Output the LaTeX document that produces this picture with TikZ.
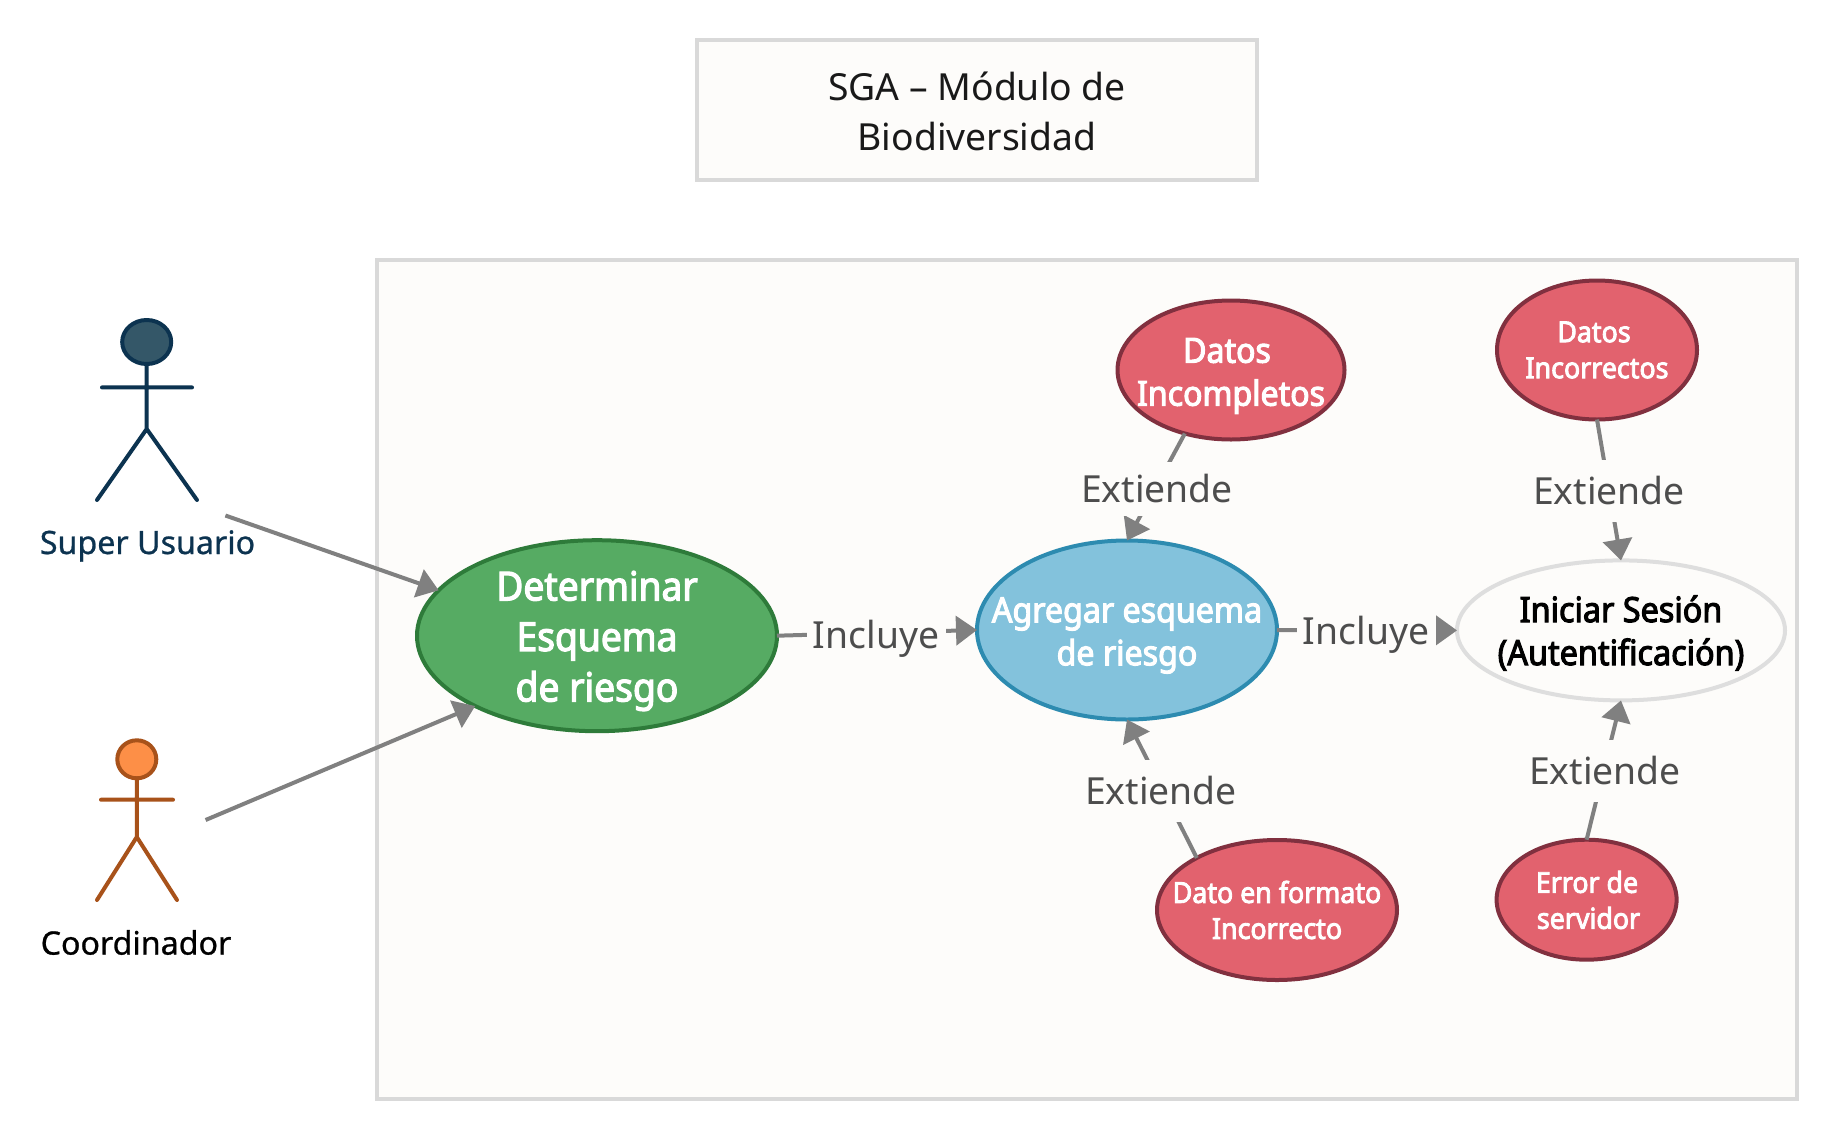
\documentclass[tikz,border=0pt]{standalone}
\usepackage{fontspec}
\setmainfont{Noto Sans}
\usetikzlibrary{shapes.geometric,arrows.meta}
\definecolor{panelbg}{HTML}{FDFCFA}
\definecolor{panelln}{HTML}{D9D9D9}
\definecolor{edgeclr}{HTML}{808080}
\definecolor{labclr}{HTML}{4D4D4D}
\definecolor{redfill}{HTML}{E2626E}
\definecolor{redln}{HTML}{81303F}
\definecolor{grfill}{HTML}{56AB63}
\definecolor{grln}{HTML}{2E7B3A}
\definecolor{blfill}{HTML}{83C2DC}
\definecolor{blln}{HTML}{2D8BB0}
\definecolor{whln}{HTML}{DEDEDE}
\definecolor{sufill}{HTML}{345768}
\definecolor{suln}{HTML}{0C3350}
\definecolor{cofill}{HTML}{FD8F47}
\definecolor{coln}{HTML}{A8521A}
\newfontfamily\ucb{Noto Sans}[FakeStretch=0.93,FakeBold=3]
\newfontfamily\actfont{Noto Sans}[FakeBold=0.8]
\tikzset{
  panelbox/.style={draw=panelln,fill=panelbg,line width=3.5pt},
  uc/.style={ellipse,line width=4pt,inner sep=0pt,outer sep=0pt},
  reduc/.style={uc,draw=redln,fill=redfill},
  uctext/.style={align=center,inner sep=0pt,text=white},
  edgeln/.style={draw=edgeclr,line width=4pt,-{Triangle[length=21pt,width=29pt]}},
  edgelab/.style={fill=panelbg,text=labclr,inner sep=0pt,minimum height=62pt,font=\fontsize{37.3}{42}\selectfont},
  actorln/.style={line width=4pt,line cap=round,line join=round},
  actorlab/.style={inner sep=0pt,font=\fontsize{32.2}{36}\selectfont\actfont},
}
\begin{document}
\begin{tikzpicture}[x=1pt,y=-1pt]
\useasboundingbox (0,0) rectangle (1837,1141);
\fill[white] (0,0) rectangle (1837,1141);
% title
\draw[panelbox] (697,40) rectangle (1257,180);
\node[inner sep=0pt,align=center,text=black!90,font=\fontsize{37.3}{49.5}\selectfont] (title) at (977,111.5) {SGA – Módulo de\\Biodiversidad};
% panel
\draw[panelbox] (377,260) rectangle (1797,1099);
% use cases
\node[uc,draw=grln,fill=grfill,minimum width=360pt,minimum height=191pt] (green) at (597,635.7) {};
\node[uc,draw=blln,fill=blfill,minimum width=300pt,minimum height=179pt] (blue) at (1127,630) {};
\node[uc,draw=whln,fill=panelbg,minimum width=328pt,minimum height=140pt] (white) at (1621,630.4) {};
\node[reduc,minimum width=227pt,minimum height=139pt] (dinc) at (1231,370) {};
\node[reduc,minimum width=200pt,minimum height=139pt] (dico) at (1597,350) {};
\node[reduc,minimum width=240pt,minimum height=140pt] (dfor) at (1277,910) {};
\node[reduc,minimum width=180pt,minimum height=120pt] (derr) at (1586.6,899.7) {};
% texts in use cases
\node[uctext,font=\fontsize{40}{50.5}\selectfont\ucb] (greenT) at (597,641) {Determinar\\Esquema\\de riesgo};
\node[uctext,font=\fontsize{34.6}{43}\selectfont\ucb] (blueT) at (1127,635.5) {Agregar esquema\\de riesgo};
\node[uctext,text=black,font=\fontsize{34.8}{43}\selectfont\ucb] (whiteT) at (1621,633) {Iniciar Sesión\\(Autentificación)};
\node[uctext,font=\fontsize{34.5}{43}\selectfont\ucb] (dincT) at (1231,376) {Datos\hspace*{8pt}\\Incompletos};
\node[uctext,font=\fontsize{28.8}{36}\selectfont\ucb] (dicoT) at (1597,350) {Datos\hspace*{6pt}\\Incorrectos};
\node[uctext,font=\fontsize{28.8}{36}\selectfont\ucb] (dforT) at (1277,910) {Dato en formato\\Incorrecto};
\node[uctext,font=\fontsize{28.8}{36}\selectfont\ucb] (derrT) at (1588.5,900) {Error de\hspace*{3pt}\\servidor};
% actors
\draw[actorln,draw=suln,fill=sufill] (146.7,342) ellipse (24.5pt and 22pt);
\draw[actorln,draw=suln] (146.7,364) -- (146.7,429) coordinate (suhip) (102,387.4) -- (192,387.4) (97,500) -- (suhip) -- (197,500);
\node[actorlab,text=suln] (suname) at (147.5,546) {Super Usuario};
\draw[actorln,draw=coln,fill=cofill] (136.8,759.3) ellipse (19.5pt and 19pt);
\draw[actorln,draw=coln] (136.8,778.3) -- (136.8,837) coordinate (cohip) (101,799.7) -- (173,799.7) (97,900) -- (cohip) -- (177,900);
\node[actorlab,text=black] (coname) at (136,942.5) {Coordinador};
\coordinate (sufrom) at (225.4,515.5);
\coordinate (cofrom) at (205.6,820);
% connectors
\draw[edgeln] (sufrom) -- (green.164.9);
\draw[edgeln] (cofrom) -- (green.210.2);
\draw[edgeln] (green.east) -- (blue.west);
\draw[edgeln] (blue.east) -- (white.west);
\draw[edgeln] (dinc.234.5) -- (blue.north);
\draw[edgeln] (dfor.147.8) -- (blue.south);
\draw[edgeln] (dico.south) -- (white.north);
\draw[edgeln] (derr.north) -- (white.south);
% connector labels
\node[edgelab,minimum width=139pt] (linc1) at (876,638.5) {Incluye};
\node[edgelab,minimum width=139pt] (linc2) at (1366,634.5) {Incluye};
\node[edgelab,minimum width=160pt,minimum height=54pt] (lext1) at (1157,488.5) {Extiende};
\node[edgelab,minimum width=160pt] (lext2) at (1609,491) {Extiende};
\node[edgelab,minimum width=160pt] (lext3) at (1161,791) {Extiende};
\node[edgelab,minimum width=160pt] (lext4) at (1605,771) {Extiende};
\end{tikzpicture}
\end{document}
